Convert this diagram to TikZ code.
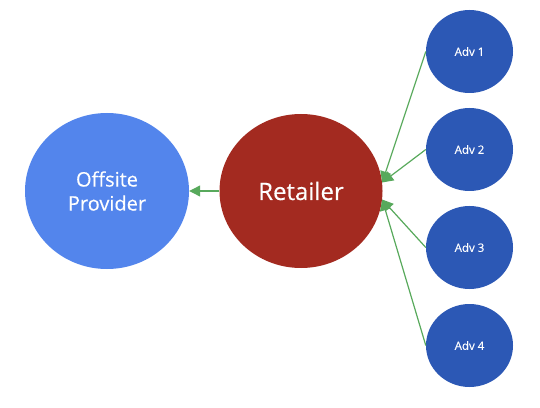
\documentclass[tikz,border=0pt]{standalone}
\usepackage{fontspec}
\setmainfont{Open Sans}
\newfontfamily\medfont{Open Sans}[FakeBold=0.3]
\usetikzlibrary{shapes.geometric,arrows.meta}
\definecolor{offblue}{HTML}{5385EC}
\definecolor{retred}{HTML}{A32A20}
\definecolor{advblue}{HTML}{2C58B5}
\definecolor{arrgreen}{HTML}{58A95C}
\tikzset{
  bubble/.style={ellipse, inner sep=0pt, text=white, align=center},
  bigbubble/.style={bubble, minimum width=164pt, minimum height=156pt},
  advbubble/.style={bubble, fill=advblue, minimum width=87pt, minimum height=83pt,
    font=\medfont\fontsize{11.5}{13}\selectfont},
  link/.style={draw=arrgreen, line width=1.2pt, -{Triangle[length=11pt,width=11pt]}}
}
\begin{document}
\begin{tikzpicture}[x=1pt,y=1pt]
\useasboundingbox (0,0) rectangle (540,407);
\node[bigbubble, fill=offblue, font=\medfont\fontsize{20}{24}\selectfont] (off) at (107,216) {Offsite\\Provider};
\node[bigbubble, fill=retred, minimum width=163pt, minimum height=154pt, font=\medfont\fontsize{24}{28}\selectfont] (ret) at (301,216) {Retailer};
\node[advbubble] (a1) at (469.5,355.5) {Adv 1};
\node[advbubble] (a2) at (469.5,257.5) {Adv 2};
\node[advbubble] (a3) at (469.5,159.5) {Adv 3};
\node[advbubble] (a4) at (469.5,61.5) {Adv 4};
\draw[link] (ret.west) -- (off.east);
\draw[link] (a1.west) -- (ret.6);
\draw[link] (a2.west) -- (ret.6);
\draw[link] (a3.west) -- (ret.-6);
\draw[link] (a4.west) -- (ret.-6);
\end{tikzpicture}
\end{document}
